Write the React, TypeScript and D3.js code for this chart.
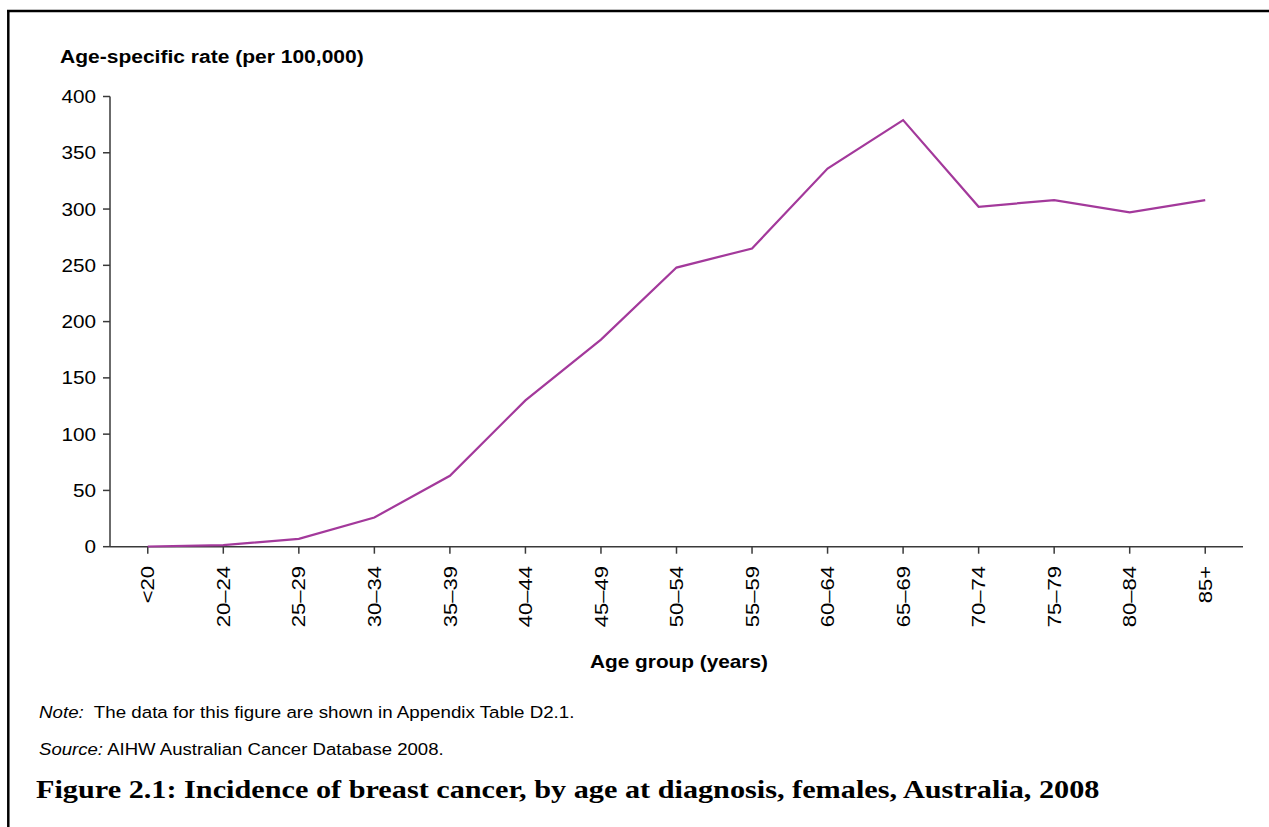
import React from "react";
import * as d3 from "d3";

const ageGroups = ["<20", "20–24", "25–29", "30–34", "35–39", "40–44", "45–49", "50–54", "55–59", "60–64", "65–69", "70–74", "75–79", "80–84", "85+"];
const rates = [0.2, 1.4, 7, 26, 63, 130, 184, 248, 265, 336, 379, 302, 308, 297, 308];
const yTicks = [0, 50, 100, 150, 200, 250, 300, 350, 400];

const W = 1269;
const H = 827;
const sans = "'Liberation Sans', Arial, Helvetica, sans-serif";
const serif = "'Liberation Serif', 'Times New Roman', serif";

export default function App() {
  const x = d3.scaleBand<string>().domain(ageGroups).range([110, 1243]).padding(0);
  const y = d3.scaleLinear().domain([0, 400]).range([546.7, 96.5]);
  const xc = (d: string) => (x(d) as number) + x.bandwidth() / 2;
  const line = d3
    .line<number>()
    .x((_, i) => xc(ageGroups[i]))
    .y((v) => y(v));
  const axisColor = "#3a3a3a";
  return (
    <svg width={W} height={H} style={{ position: "absolute", left: 0, top: 0, background: "#fff" }}>
      <rect x={0} y={0} width={W} height={H} fill="#fff" />
      {/* frame */}
      <line x1={7} x2={W} y1={11} y2={11} stroke="#000" strokeWidth={2.5} />
      <line x1={8.3} x2={8.3} y1={10} y2={H} stroke="#000" strokeWidth={2.5} />

      {/* y axis title */}
      <text transform="translate(60,63) scale(1.168,1)" fontFamily={sans} fontWeight="bold" fontSize={18} fill="#000">
        Age-specific rate (per 100,000)
      </text>

      {/* y axis */}
      <line x1={110} x2={110} y1={y(400)} y2={y(0)} stroke={axisColor} strokeWidth={1.5} />
      {yTicks.map((t) => (
        <g key={t}>
          <line x1={103} x2={110} y1={y(t)} y2={y(t)} stroke={axisColor} strokeWidth={1.5} />
          <text
            transform={`translate(96,${y(t)}) scale(1.12,1)`}
            dy="0.35em"
            textAnchor="end"
            fontFamily={sans}
            fontSize={18.5}
            fill="#000"
          >
            {t}
          </text>
        </g>
      ))}

      {/* x axis */}
      <line x1={110} x2={1243} y1={y(0)} y2={y(0)} stroke={axisColor} strokeWidth={1.5} />
      {ageGroups.map((g) => (
        <g key={g}>
          <line x1={xc(g)} x2={xc(g)} y1={y(0)} y2={y(0) + 7} stroke={axisColor} strokeWidth={1.5} />
          <text
            transform={`translate(${xc(g)},566) rotate(-90) scale(1.16,1)`}
            dy="0.35em"
            textAnchor="end"
            fontFamily={sans}
            fontSize={19}
            fill="#000"
          >
            {g}
          </text>
        </g>
      ))}
      <text transform="translate(679,668) scale(1.156,1)" textAnchor="middle" fontFamily={sans} fontWeight="bold" fontSize={18} fill="#000">
        Age group (years)
      </text>

      {/* data line */}
      <path d={line(rates) || ""} fill="none" stroke="#a3399b" strokeWidth={2.2} strokeLinejoin="miter" />

      {/* notes */}
      <text transform="translate(39,718) scale(1.15,1)" fontFamily={sans} fontSize={16.3} fill="#000" style={{ whiteSpace: "pre" }}>
        <tspan fontStyle="italic">Note:</tspan>
        <tspan>{"  The data for this figure are shown in Appendix Table D2.1."}</tspan>
      </text>
      <text transform="translate(39,755) scale(1.14,1)" fontFamily={sans} fontSize={16.3} fill="#000">
        <tspan fontStyle="italic">Source:</tspan>
        <tspan>{" AIHW Australian Cancer Database 2008."}</tspan>
      </text>
      <text transform="translate(36,798) scale(1.21,1)" fontFamily={serif} fontWeight="bold" fontSize={25} fill="#000">
        Figure 2.1: Incidence of breast cancer, by age at diagnosis, females, Australia, 2008
      </text>
    </svg>
  );
}
